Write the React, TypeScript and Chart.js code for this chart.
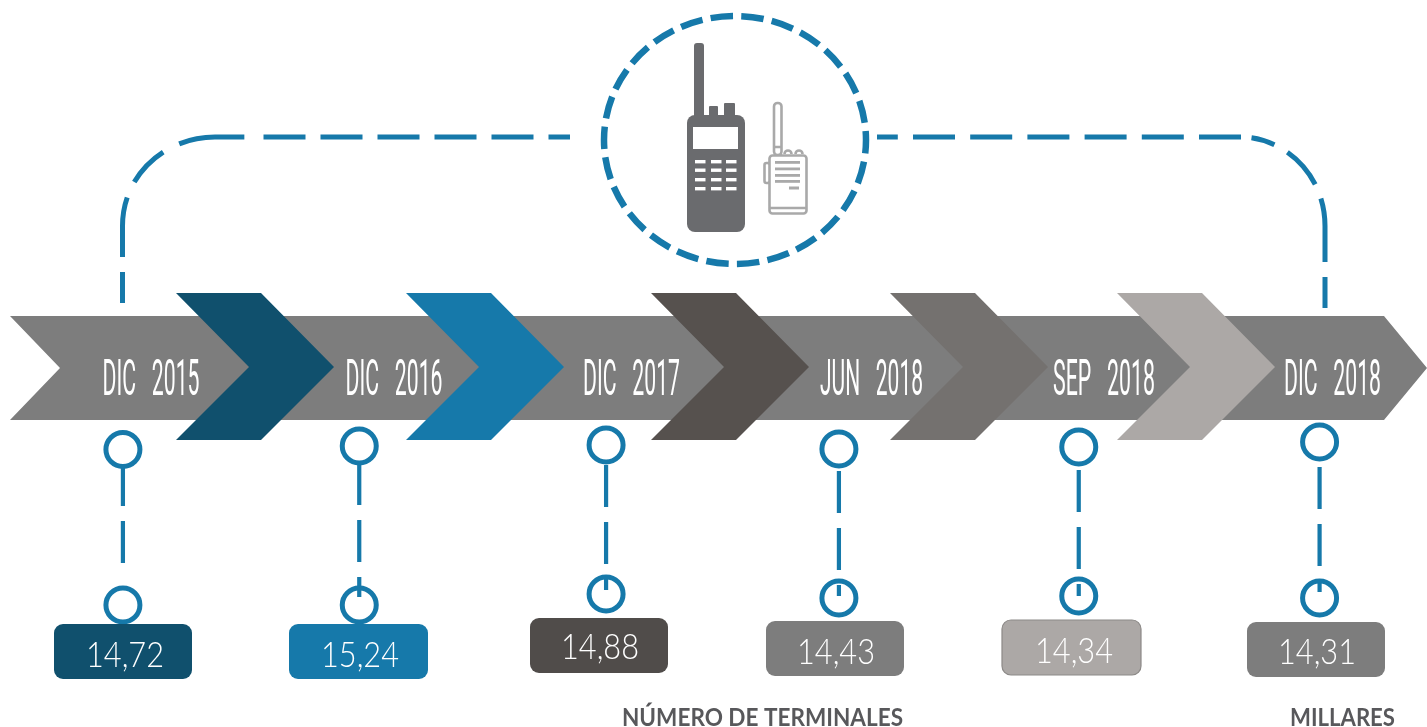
import React, { useEffect, useRef } from "react";
import { Chart, registerables } from "chart.js";

Chart.register(...registerables);

const periods = ["DIC 2015", "DIC 2016", "DIC 2017", "JUN 2018", "SEP 2018", "DIC 2018"];
const terminals = [14.72, 15.24, 14.88, 14.43, 14.34, 14.31];
const axisNote = "NÚMERO DE TERMINALES";
const unitNote = "MILLARES";

const boxColors = ["#10506d", "#1679aa", "#504c4a", "#7d7d7d", "#aca8a6", "#7d7d7d"];
const chevronColors = ["#10506d", "#1679aa", "#56514e", "#74716f", "#aca8a6"];
const BLUE = "#1679aa";
const GREY = "#7d7d7d";

// layout (pixels), per column
const columnNudge = [4, 2.5, 11.5, 6.5, 8.5, 11.5];
const upperCircleY = [449.5, 446, 445, 449, 447, 442];
const lowerCircleY = [605, 605, 594, 598, 596, 598];
const dashEndY = [563, 562, 564, 570, 569, 566];
const tickEndY = [0, 597, 590, 596, 596, 592];
const boxLeft = [54, 289, 530, 766, 1002, 1247];
const boxTop = [624, 624, 618, 621, 620, 622];
const boxWidth = [138, 139, 138, 138, 139, 138];
const labelCx = [151, 394, 631.5, 871.5, 1104, 1332.5];
const labelW = [97, 97, 97, 103, 102, 97];
const valueCx = [125, 360, 600, 836, 1074, 1317];
const valueBase = [667, 667, 659, 664, 663, 664];
const chevronLeft = [176, 406, 651, 890, 1117];

function fitText(ctx: CanvasRenderingContext2D, text: string, cx: number, base: number, w: number, font: string, color: string) {
  ctx.save();
  ctx.font = font;
  ctx.fillStyle = color;
  ctx.textAlign = "left";
  ctx.textBaseline = "alphabetic";
  const m = ctx.measureText(text).width;
  ctx.translate(cx - w / 2, base);
  ctx.scale(w / m, 1);
  ctx.fillText(text, 0, 0);
  ctx.restore();
}

function poly(ctx: CanvasRenderingContext2D, pts: number[][], color: string) {
  ctx.beginPath();
  pts.forEach((p, i) => (i ? ctx.lineTo(p[0], p[1]) : ctx.moveTo(p[0], p[1])));
  ctx.closePath();
  ctx.fillStyle = color;
  ctx.fill();
}

function rect(ctx: CanvasRenderingContext2D, x0: number, y0: number, x1: number, y1: number, color: string, r = 0) {
  ctx.beginPath();
  ctx.roundRect(x0, y0, x1 - x0, y1 - y0, r);
  ctx.fillStyle = color;
  ctx.fill();
}

function drawRadios(ctx: CanvasRenderingContext2D) {
  const dark = "#6a6b6e";
  rect(ctx, 694, 43, 704, 120, dark, 3);
  rect(ctx, 709, 106, 718, 120, dark, 1);
  rect(ctx, 724, 103, 735, 120, dark, 1);
  rect(ctx, 687, 115, 745, 232, dark, 8);
  rect(ctx, 693, 127, 738, 149, "#ffffff");
  [160, 168.5, 178, 187].forEach((y) => {
    [695, 711, 726].forEach((x) => rect(ctx, x, y, x + 10.5, y + 3.4, "#ffffff"));
  });

  const light = "#a9a9a9";
  ctx.save();
  ctx.strokeStyle = light;
  ctx.lineWidth = 2.6;
  ctx.beginPath();
  ctx.roundRect(769.5, 155.5, 37, 58, 3);
  ctx.roundRect(774, 103, 7.5, 52, 3.5);
  ctx.roundRect(764.5, 163, 5, 20, 2);
  ctx.moveTo(769, 208);
  ctx.lineTo(806, 208);
  ctx.moveTo(774, 147);
  ctx.lineTo(781, 147);
  ctx.stroke();
  ctx.beginPath();
  ctx.arc(788, 154, 3.5, Math.PI, 0);
  ctx.stroke();
  ctx.beginPath();
  ctx.arc(799, 154, 3.5, Math.PI, 0);
  ctx.stroke();
  ctx.restore();
  [161, 167.5, 174, 180].forEach((y) => rect(ctx, 775, y, 800, y + 2.8, light));
  rect(ctx, 789, 186.5, 799, 189.5, light);
}

const infographic = {
  id: "infographic",
  afterDraw(chart: any) {
    const ctx: CanvasRenderingContext2D = chart.ctx;
    const xs = chart.data.labels.map((_: string, i: number) => chart.scales.x.getPixelForTick(i) + columnNudge[i]);
    const values: number[] = chart.data.datasets[0].data;

    // dashed frame and circle
    ctx.save();
    ctx.strokeStyle = BLUE;
    ctx.lineWidth = 5;
    ctx.setLineDash([31, 15, 60, 17, 42, 18, 66, 1000]);
    ctx.beginPath();
    ctx.moveTo(122.5, 303);
    ctx.lineTo(122.5, 226);
    ctx.bezierCurveTo(122.5, 175, 165, 137, 215, 137);
    ctx.lineTo(250, 137);
    ctx.stroke();
    ctx.setLineDash([42, 15]);
    ctx.beginPath();
    ctx.moveTo(263.5, 137);
    ctx.lineTo(570, 137);
    ctx.stroke();
    ctx.setLineDash([31, 15, 64, 15, 43, 15, 24, 1000]);
    ctx.beginPath();
    ctx.moveTo(1325, 308);
    ctx.lineTo(1325, 226);
    ctx.bezierCurveTo(1325, 175, 1285, 137, 1240, 137);
    ctx.lineTo(1238, 137);
    ctx.stroke();
    ctx.setLineDash([42, 15.2]);
    ctx.beginPath();
    ctx.moveTo(1241, 137);
    ctx.lineTo(877, 137);
    ctx.stroke();
    ctx.lineWidth = 6.5;
    ctx.setLineDash([22.5, 8.3]);
    ctx.lineDashOffset = 9;
    ctx.beginPath();
    ctx.ellipse(735, 140, 131, 124, 0, 0, Math.PI * 2);
    ctx.stroke();
    ctx.restore();

    drawRadios(ctx);

    // main arrow and chevrons
    poly(ctx, [[10, 316], [1384, 316], [1427, 368], [1384, 420], [10, 420], [60, 368]], GREY);
    chevronLeft.forEach((x, i) => {
      const c = [[x, 293], [x + 85, 293], [x + 158, 367], [x + 85, 440], [x, 440], [x + 73, 367]];
      poly(ctx, c, chevronColors[i]);
    });

    // period labels
    chart.data.labels.forEach((label: string, i: number) => {
      fitText(ctx, label.replace(" ", "   "), labelCx[i], 395, labelW[i], "400 50px Roboto", "#ffffff");
    });

    // connectors, circles, boxes and values
    xs.forEach((x: number, i: number) => {
      const up = upperCircleY[i];
      const low = lowerCircleY[i];
      const end = dashEndY[i];
      ctx.save();
      ctx.strokeStyle = BLUE;
      ctx.lineWidth = 4.2;
      ctx.beginPath();
      ctx.moveTo(x, end);
      ctx.lineTo(x, end - 42);
      ctx.moveTo(x, end - 57);
      ctx.lineTo(x, end - 99);
      if (tickEndY[i]) {
        ctx.moveTo(x, end + 15);
        ctx.lineTo(x, tickEndY[i]);
      }
      ctx.stroke();
      ctx.lineWidth = 5;
      ctx.beginPath();
      ctx.arc(x, up, 17, 0, Math.PI * 2);
      ctx.stroke();
      ctx.beginPath();
      ctx.arc(x, low, 17, 0, Math.PI * 2);
      ctx.stroke();
      ctx.restore();

      rect(ctx, boxLeft[i], boxTop[i], boxLeft[i] + boxWidth[i], boxTop[i] + 55, boxColors[i], 9);
      if (i === 4) {
        ctx.save();
        ctx.strokeStyle = "#8c8987";
        ctx.lineWidth = 1.2;
        ctx.beginPath();
        ctx.roundRect(boxLeft[i], boxTop[i], boxWidth[i], 55, 9);
        ctx.stroke();
        ctx.restore();
      }
      const text = values[i].toFixed(2).replace(".", ",");
      fitText(ctx, text, valueCx[i], valueBase[i], 78, "300 35px Lato", "#ffffff");
    });

    fitText(ctx, axisNote, 762.5, 726, 281, "700 24px Lato", "#58585b");
    fitText(ctx, unitNote, 1342.5, 726, 105, "700 24px Lato", "#58585b");
  },
};

export default function App() {
  const ref = useRef<HTMLCanvasElement>(null);
  useEffect(() => {
    const chart = new Chart(ref.current!, {
      type: "line",
      data: {
        labels: periods,
        datasets: [{ label: "Terminales", data: terminals, showLine: false, pointRadius: 0 }],
      },
      options: {
        animation: false,
        responsive: false,
        events: [],
        layout: { padding: 0 },
        plugins: { legend: { display: false }, tooltip: { enabled: false } },
        scales: {
          x: { type: "category", offset: true, display: false },
          y: { display: false, min: 14, max: 16 },
        },
      },
      plugins: [infographic],
    });
    return () => chart.destroy();
  }, []);
  return (
    <div style={{ position: "absolute", left: 0, top: 0, width: 1427, height: 727, background: "#fff" }}>
      <canvas ref={ref} width={1427} height={727} style={{ display: "block" }} />
    </div>
  );
}
